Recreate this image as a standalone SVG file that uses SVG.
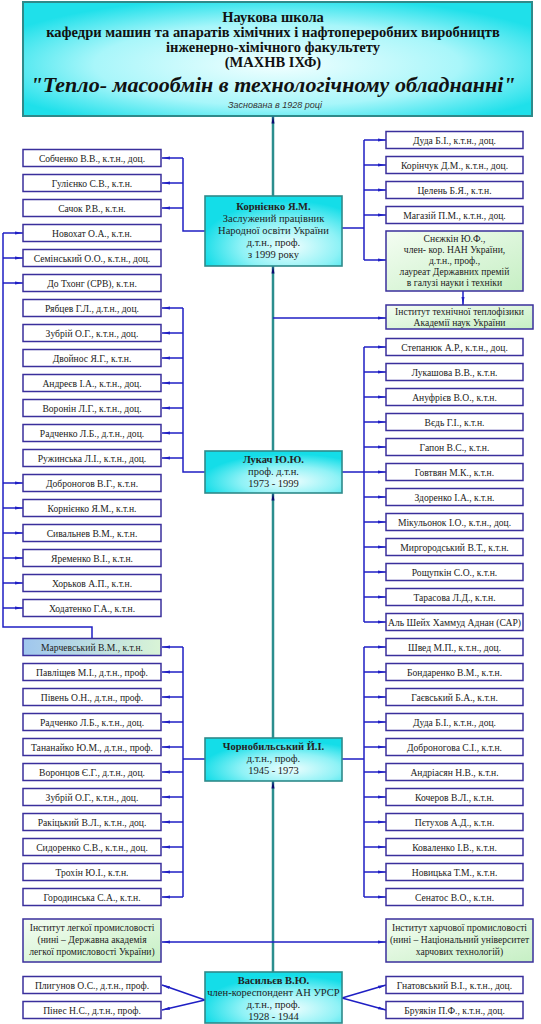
<svg xmlns="http://www.w3.org/2000/svg" width="541" height="1024" viewBox="0 0 541 1024">
<style>
.p rect{fill:#fff;stroke:#3a2f9c;stroke-width:1.5}
.p text,.m text,.i text{font-family:"Liberation Serif","DejaVu Serif",serif;font-size:9.6px;fill:#222;text-anchor:middle}
.m rect{fill:url(#gCyan);stroke:#2f8a8a;stroke-width:1.6}
.m text{font-size:10.5px}
.m .b{font-weight:bold}
.i rect{fill:url(#gGreen);stroke:#3a2f9c;stroke-width:1.5}
.c{fill:none;stroke:#1f1fc4;stroke-width:1.5}
.s{fill:none;stroke:#2b8e8e;stroke-width:2.5}
.t{font-family:"Liberation Serif","DejaVu Serif",serif;text-anchor:middle;fill:#111}
</style>
<defs>
<radialGradient id="gTitle" cx="0.5" cy="0.55" r="0.6">
<stop offset="0" stop-color="#f2ffff"/><stop offset="0.6" stop-color="#a8f6fa"/><stop offset="1" stop-color="#1fe0ea"/>
</radialGradient>
<radialGradient id="gCyan" cx="0.62" cy="0.72" r="0.65">
<stop offset="0" stop-color="#effefe"/><stop offset="0.55" stop-color="#8ff2f6"/><stop offset="1" stop-color="#14dde8"/>
</radialGradient>
<linearGradient id="gGreen" x1="0" y1="0" x2="1" y2="1">
<stop offset="0" stop-color="#f4fdf2"/><stop offset="1" stop-color="#c6efc4"/>
</linearGradient>
<linearGradient id="gMarch" x1="0" y1="0" x2="1" y2="0">
<stop offset="0" stop-color="#9fc6ee"/><stop offset="1" stop-color="#d9f4d6"/>
</linearGradient>
<marker id="a" markerWidth="8" markerHeight="5" refX="8" refY="2.5" orient="auto" markerUnits="userSpaceOnUse">
<path d="M0,1 L8,2.5 L0,4 z" fill="#1f1fc4"/>
</marker>
<marker id="A" markerWidth="8" markerHeight="16" refX="15" refY="4" orient="auto" markerUnits="userSpaceOnUse" viewBox="0 0 16 8">
<path d="M0,1 L16,4 L0,7 z" fill="#0a0a70"/>
</marker>
</defs>

<g id="title">
<rect x="23" y="2" width="509" height="114" fill="url(#gTitle)" stroke="#2f8a8a" stroke-width="2"/>
<text class="t" x="273" y="22" font-size="14.5" font-weight="bold">Наукова школа</text>
<text class="t" x="273" y="37" font-size="14.5" font-weight="bold">кафедри машин та апаратів хімічних і нафтопереробних виробництв</text>
<text class="t" x="273" y="52" font-size="14.5" font-weight="bold">інженерно-хімічного факультету</text>
<text class="t" x="273" y="67" font-size="14.5" font-weight="bold">(МАХНВ ІХФ)</text>
<text class="t" x="273" y="92" font-size="22" font-weight="bold" font-style="italic">"Тепло- масообмін в технологічному обладнанні"</text>
<text x="275" y="108" font-family="Liberation Sans, sans-serif" font-size="9" font-style="italic" fill="#333" text-anchor="middle">Заснована в 1928 році</text>
</g>

<g id="connectors">
<!-- spine -->
<path class="s" d="M273,972 V781" marker-end="url(#A)"/>
<path class="s" d="M273,738 V493" marker-end="url(#A)"/>
<path class="s" d="M273,451 V266" marker-end="url(#A)"/>
<path class="s" d="M273,196 V116" marker-end="url(#A)"/>
<!-- Kornienko left -->
<path class="c" d="M205,231 H183 V158"/>
<path class="c" d="M183,158 H162" marker-end="url(#a)"/>
<path class="c" d="M183,183 H162" marker-end="url(#a)"/>
<path class="c" d="M183,208 H162" marker-end="url(#a)"/>
<!-- Kornienko right -->
<path class="c" d="M342,228 H364 M364,140 V260"/>
<path class="c" d="M364,140 H386" marker-end="url(#a)"/>
<path class="c" d="M364,165 H386" marker-end="url(#a)"/>
<path class="c" d="M364,190 H386" marker-end="url(#a)"/>
<path class="c" d="M364,215 H386" marker-end="url(#a)"/>
<path class="c" d="M364,260 H386" marker-end="url(#a)"/>
<path class="c" d="M463,291 V305" marker-end="url(#a)"/>
<path class="c" d="M273,318 H386" marker-end="url(#a)"/>
<!-- Marchevsky line -->
<path class="c" d="M3,233 V627 H92 V638"/>
<path class="c" d="M3,233 H23" marker-end="url(#a)"/>
<path class="c" d="M3,258 H23" marker-end="url(#a)"/>
<path class="c" d="M3,283 H23" marker-end="url(#a)"/>
<path class="c" d="M3,483 H23" marker-end="url(#a)"/>
<path class="c" d="M3,508 H23" marker-end="url(#a)"/>
<path class="c" d="M3,533 H23" marker-end="url(#a)"/>
<path class="c" d="M3,558 H23" marker-end="url(#a)"/>
<path class="c" d="M3,583 H23" marker-end="url(#a)"/>
<path class="c" d="M3,608 H23" marker-end="url(#a)"/>
<!-- Lukach left -->
<path class="c" d="M205,472 H183 V308"/>
<path class="c" d="M183,308 H162" marker-end="url(#a)"/>
<path class="c" d="M183,333 H162" marker-end="url(#a)"/>
<path class="c" d="M183,358 H162" marker-end="url(#a)"/>
<path class="c" d="M183,383 H162" marker-end="url(#a)"/>
<path class="c" d="M183,408 H162" marker-end="url(#a)"/>
<path class="c" d="M183,433 H162" marker-end="url(#a)"/>
<path class="c" d="M183,458 H162" marker-end="url(#a)"/>
<!-- Lukach right -->
<path class="c" d="M342,472 H364 M364,347 V622"/>
<path class="c" d="M364,347 H386" marker-end="url(#a)"/>
<path class="c" d="M364,372 H386" marker-end="url(#a)"/>
<path class="c" d="M364,397 H386" marker-end="url(#a)"/>
<path class="c" d="M364,422 H386" marker-end="url(#a)"/>
<path class="c" d="M364,447 H386" marker-end="url(#a)"/>
<path class="c" d="M364,472 H386" marker-end="url(#a)"/>
<path class="c" d="M364,497 H386" marker-end="url(#a)"/>
<path class="c" d="M364,522 H386" marker-end="url(#a)"/>
<path class="c" d="M364,547 H386" marker-end="url(#a)"/>
<path class="c" d="M364,572 H386" marker-end="url(#a)"/>
<path class="c" d="M364,597 H386" marker-end="url(#a)"/>
<path class="c" d="M364,622 H386" marker-end="url(#a)"/>
<!-- Chornobylsky left -->
<path class="c" d="M205,759 H183 M183,647 V897"/>
<path class="c" d="M183,647 H162" marker-end="url(#a)"/>
<path class="c" d="M183,672 H162" marker-end="url(#a)"/>
<path class="c" d="M183,697 H162" marker-end="url(#a)"/>
<path class="c" d="M183,722 H162" marker-end="url(#a)"/>
<path class="c" d="M183,747 H162" marker-end="url(#a)"/>
<path class="c" d="M183,772 H162" marker-end="url(#a)"/>
<path class="c" d="M183,797 H162" marker-end="url(#a)"/>
<path class="c" d="M183,822 H162" marker-end="url(#a)"/>
<path class="c" d="M183,847 H162" marker-end="url(#a)"/>
<path class="c" d="M183,872 H162" marker-end="url(#a)"/>
<path class="c" d="M183,897 H162" marker-end="url(#a)"/>
<!-- Chornobylsky right -->
<path class="c" d="M342,759 H364 M364,647 V897"/>
<path class="c" d="M364,647 H386" marker-end="url(#a)"/>
<path class="c" d="M364,672 H386" marker-end="url(#a)"/>
<path class="c" d="M364,697 H386" marker-end="url(#a)"/>
<path class="c" d="M364,722 H386" marker-end="url(#a)"/>
<path class="c" d="M364,747 H386" marker-end="url(#a)"/>
<path class="c" d="M364,772 H386" marker-end="url(#a)"/>
<path class="c" d="M364,797 H386" marker-end="url(#a)"/>
<path class="c" d="M364,822 H386" marker-end="url(#a)"/>
<path class="c" d="M364,847 H386" marker-end="url(#a)"/>
<path class="c" d="M364,872 H386" marker-end="url(#a)"/>
<path class="c" d="M364,897 H386" marker-end="url(#a)"/>
<!-- institutes -->
<path class="c" d="M273,942 H162" marker-end="url(#a)"/>
<path class="c" d="M273,942 H386" marker-end="url(#a)"/>
<!-- Vasylyev -->
<path class="c" d="M205,1000 L162,985" marker-end="url(#a)"/>
<path class="c" d="M205,1000 L162,1010" marker-end="url(#a)"/>
<path class="c" d="M342,998 L386,985" marker-end="url(#a)"/>
<path class="c" d="M342,998 L386,1010" marker-end="url(#a)"/>
</g>

<g id="n-kornienko" class="m"><rect x="205" y="196" width="137" height="70"/>
<text class="b" x="273.5" y="210">Корнієнко Я.М.</text>
<text x="273.5" y="222">Заслужений працівник</text>
<text x="273.5" y="234">Народної освіти України</text>
<text x="273.5" y="246">д.т.н., проф.</text>
<text x="273.5" y="258">з 1999 року</text></g>

<g id="n-lukach" class="m"><rect x="205" y="451" width="137" height="42"/>
<text class="b" x="273.5" y="463">Лукач Ю.Ю.</text>
<text x="273.5" y="475">проф. д.т.н.</text>
<text x="273.5" y="487">1973 - 1999</text></g>

<g id="n-chornobylsky" class="m"><rect x="205" y="738" width="137" height="43"/>
<text class="b" x="273.5" y="750">Чорнобильський Й.І.</text>
<text x="273.5" y="762">д.т.н., проф.</text>
<text x="273.5" y="774">1945 - 1973</text></g>

<g id="n-vasylyev" class="m"><rect x="205" y="972" width="137" height="51"/>
<text class="b" x="273.5" y="984">Васильєв В.Ю.</text>
<text x="273.5" y="996">член-кореспондент АН УРСР</text>
<text x="273.5" y="1008">д.т.н., проф.</text>
<text x="273.5" y="1020">1928 - 1944</text></g>

<g id="n-snezhkin" class="i"><rect x="386" y="231" width="137" height="60"/>
<text x="454.5" y="242">Снєжкін Ю.Ф.,</text>
<text x="454.5" y="253">член- кор. НАН України,</text>
<text x="454.5" y="264">д.т.н., проф.,</text>
<text x="454.5" y="275">лауреат Державних премій</text>
<text x="454.5" y="286">в галузі науки і техніки</text></g>

<g id="n-itt" class="i"><rect x="386" y="305" width="147" height="24"/>
<text x="459.5" y="315">Інститут технічної теплофізики</text>
<text x="459.5" y="326">Академії наук України</text></g>

<g id="n-ilp" class="i"><rect x="23" y="919" width="138" height="43"/>
<text x="92" y="931">Інститут легкої промисловості</text>
<text x="92" y="943">(нині – Державна академія</text>
<text x="92" y="955">легкої промисловості України)</text></g>

<g id="n-ihp" class="i"><rect x="386" y="919" width="147" height="43"/>
<text x="459.5" y="931">Інститут харчової промисловості</text>
<text x="459.5" y="943">(нині – Національний університет</text>
<text x="459.5" y="955">харчових технологій)</text></g>

<g id="n-l1" class="p"><rect x="23" y="149.5" width="138" height="17"/><text x="92" y="161.5">Собченко В.В., к.т.н., доц.</text></g>
<g id="n-l2" class="p"><rect x="23" y="174.5" width="138" height="17"/><text x="92" y="186.5">Гулієнко С.В., к.т.н.</text></g>
<g id="n-l3" class="p"><rect x="23" y="199.5" width="138" height="17"/><text x="92" y="211.5">Сачок Р.В., к.т.н.</text></g>
<g id="n-l4" class="p"><rect x="23" y="224.5" width="138" height="17"/><text x="92" y="236.5">Новохат О.А., к.т.н.</text></g>
<g id="n-l5" class="p"><rect x="23" y="249.5" width="138" height="17"/><text x="92" y="261.5">Семінський О.О., к.т.н., доц.</text></g>
<g id="n-l6" class="p"><rect x="23" y="274.5" width="138" height="17"/><text x="92" y="286.5">До Тхонг (СРВ), к.т.н.</text></g>
<g id="n-l7" class="p"><rect x="23" y="299.5" width="138" height="17"/><text x="92" y="311.5">Рябцев Г.Л., д.т.н., доц.</text></g>
<g id="n-l8" class="p"><rect x="23" y="324.5" width="138" height="17"/><text x="92" y="336.5">Зубрій О.Г., к.т.н., доц.</text></g>
<g id="n-l9" class="p"><rect x="23" y="349.5" width="138" height="17"/><text x="92" y="361.5">Двойнос Я.Г., к.т.н.</text></g>
<g id="n-l10" class="p"><rect x="23" y="374.5" width="138" height="17"/><text x="92" y="386.5">Андреєв І.А., к.т.н., доц.</text></g>
<g id="n-l11" class="p"><rect x="23" y="399.5" width="138" height="17"/><text x="92" y="411.5">Воронін Л.Г., к.т.н., доц.</text></g>
<g id="n-l12" class="p"><rect x="23" y="424.5" width="138" height="17"/><text x="92" y="436.5">Радченко Л.Б., д.т.н., доц.</text></g>
<g id="n-l13" class="p"><rect x="23" y="449.5" width="138" height="17"/><text x="92" y="461.5">Ружинська Л.І., к.т.н., доц.</text></g>
<g id="n-l14" class="p"><rect x="23" y="474.5" width="138" height="17"/><text x="92" y="486.5">Доброногов В.Г., к.т.н.</text></g>
<g id="n-l15" class="p"><rect x="23" y="499.5" width="138" height="17"/><text x="92" y="511.5">Корнієнко Я.М., к.т.н.</text></g>
<g id="n-l16" class="p"><rect x="23" y="524.5" width="138" height="17"/><text x="92" y="536.5">Сивальнев В.М., к.т.н.</text></g>
<g id="n-l17" class="p"><rect x="23" y="549.5" width="138" height="17"/><text x="92" y="561.5">Яременко В.І., к.т.н.</text></g>
<g id="n-l18" class="p"><rect x="23" y="574.5" width="138" height="17"/><text x="92" y="586.5">Хорьков А.П., к.т.н.</text></g>
<g id="n-l19" class="p"><rect x="23" y="599.5" width="138" height="17"/><text x="92" y="611.5">Ходатенко Г.А., к.т.н.</text></g>
<g id="n-l20" class="p"><rect x="23" y="638.5" width="138" height="17" style="fill:url(#gMarch)"/><text x="92" y="650.5">Марчевський В.М., к.т.н.</text></g>
<g id="n-l21" class="p"><rect x="23" y="663.5" width="138" height="17"/><text x="92" y="675.5">Павліщев М.І., д.т.н., проф.</text></g>
<g id="n-l22" class="p"><rect x="23" y="688.5" width="138" height="17"/><text x="92" y="700.5">Півень О.Н., д.т.н., проф.</text></g>
<g id="n-l23" class="p"><rect x="23" y="713.5" width="138" height="17"/><text x="92" y="725.5">Радченко Л.Б., к.т.н., доц.</text></g>
<g id="n-l24" class="p"><rect x="23" y="738.5" width="138" height="17"/><text x="92" y="750.5">Тананайко Ю.М., д.т.н., проф.</text></g>
<g id="n-l25" class="p"><rect x="23" y="763.5" width="138" height="17"/><text x="92" y="775.5">Воронцов Є.Г., д.т.н., доц.</text></g>
<g id="n-l26" class="p"><rect x="23" y="788.5" width="138" height="17"/><text x="92" y="800.5">Зубрій О.Г., к.т.н., доц.</text></g>
<g id="n-l27" class="p"><rect x="23" y="813.5" width="138" height="17"/><text x="92" y="825.5">Ракіцький В.Л., к.т.н., доц.</text></g>
<g id="n-l28" class="p"><rect x="23" y="838.5" width="138" height="17"/><text x="92" y="850.5">Сидоренко С.В., к.т.н., доц.</text></g>
<g id="n-l29" class="p"><rect x="23" y="863.5" width="138" height="17"/><text x="92" y="875.5">Трохін Ю.І., к.т.н.</text></g>
<g id="n-l30" class="p"><rect x="23" y="888.5" width="138" height="17"/><text x="92" y="900.5">Городинська С.А., к.т.н.</text></g>
<g id="n-l31" class="p"><rect x="23" y="976.5" width="138" height="17"/><text x="92" y="988.5">Плигунов О.С., д.т.н., проф.</text></g>
<g id="n-l32" class="p"><rect x="23" y="1001.5" width="138" height="17"/><text x="92" y="1013.5">Пінес Н.С., д.т.н., проф.</text></g>

<g id="n-r1" class="p"><rect x="386" y="131.5" width="137" height="17"/><text x="454.5" y="143.5">Дуда Б.І., к.т.н., доц.</text></g>
<g id="n-r2" class="p"><rect x="386" y="156.5" width="137" height="17"/><text x="454.5" y="168.5">Корінчук Д.М., к.т.н., доц.</text></g>
<g id="n-r3" class="p"><rect x="386" y="181.5" width="137" height="17"/><text x="454.5" y="193.5">Целень Б.Я., к.т.н.</text></g>
<g id="n-r4" class="p"><rect x="386" y="206.5" width="137" height="17"/><text x="454.5" y="218.5">Магазій П.М., к.т.н., доц.</text></g>
<g id="n-r5" class="p"><rect x="386" y="338.5" width="137" height="17"/><text x="454.5" y="350.5">Степанюк А.Р., к.т.н., доц.</text></g>
<g id="n-r6" class="p"><rect x="386" y="363.5" width="137" height="17"/><text x="454.5" y="375.5">Лукашова В.В., к.т.н.</text></g>
<g id="n-r7" class="p"><rect x="386" y="388.5" width="137" height="17"/><text x="454.5" y="400.5">Ануфрієв В.О., к.т.н.</text></g>
<g id="n-r8" class="p"><rect x="386" y="413.5" width="137" height="17"/><text x="454.5" y="425.5">Вєдь Г.І., к.т.н.</text></g>
<g id="n-r9" class="p"><rect x="386" y="438.5" width="137" height="17"/><text x="454.5" y="450.5">Гапон В.С., к.т.н.</text></g>
<g id="n-r10" class="p"><rect x="386" y="463.5" width="137" height="17"/><text x="454.5" y="475.5">Говтвян М.К., к.т.н.</text></g>
<g id="n-r11" class="p"><rect x="386" y="488.5" width="137" height="17"/><text x="454.5" y="500.5">Здоренко І.А., к.т.н.</text></g>
<g id="n-r12" class="p"><rect x="386" y="513.5" width="137" height="17"/><text x="454.5" y="525.5">Мікульонок І.О., к.т.н., доц.</text></g>
<g id="n-r13" class="p"><rect x="386" y="538.5" width="137" height="17"/><text x="454.5" y="550.5">Миргородський В.Т., к.т.н.</text></g>
<g id="n-r14" class="p"><rect x="386" y="563.5" width="137" height="17"/><text x="454.5" y="575.5">Рощупкін С.О., к.т.н.</text></g>
<g id="n-r15" class="p"><rect x="386" y="588.5" width="137" height="17"/><text x="454.5" y="600.5">Тарасова Л.Д., к.т.н.</text></g>
<g id="n-r16" class="p"><rect x="386" y="613.5" width="137" height="17"/><text x="454.5" y="625.5">Аль Шейх Хаммуд Аднан (САР)</text></g>
<g id="n-r17" class="p"><rect x="386" y="638.5" width="137" height="17"/><text x="454.5" y="650.5">Швед М.П., к.т.н., доц.</text></g>
<g id="n-r18" class="p"><rect x="386" y="663.5" width="137" height="17"/><text x="454.5" y="675.5">Бондаренко В.М., к.т.н.</text></g>
<g id="n-r19" class="p"><rect x="386" y="688.5" width="137" height="17"/><text x="454.5" y="700.5">Гаєвський Б.А., к.т.н.</text></g>
<g id="n-r20" class="p"><rect x="386" y="713.5" width="137" height="17"/><text x="454.5" y="725.5">Дуда Б.І., к.т.н., доц.</text></g>
<g id="n-r21" class="p"><rect x="386" y="738.5" width="137" height="17"/><text x="454.5" y="750.5">Доброногова С.І., к.т.н.</text></g>
<g id="n-r22" class="p"><rect x="386" y="763.5" width="137" height="17"/><text x="454.5" y="775.5">Андріасян Н.В., к.т.н.</text></g>
<g id="n-r23" class="p"><rect x="386" y="788.5" width="137" height="17"/><text x="454.5" y="800.5">Кочеров В.Л., к.т.н.</text></g>
<g id="n-r24" class="p"><rect x="386" y="813.5" width="137" height="17"/><text x="454.5" y="825.5">Пєтухов А.Д., к.т.н.</text></g>
<g id="n-r25" class="p"><rect x="386" y="838.5" width="137" height="17"/><text x="454.5" y="850.5">Коваленко І.В., к.т.н.</text></g>
<g id="n-r26" class="p"><rect x="386" y="863.5" width="137" height="17"/><text x="454.5" y="875.5">Новицька Т.М., к.т.н.</text></g>
<g id="n-r27" class="p"><rect x="386" y="888.5" width="137" height="17"/><text x="454.5" y="900.5">Сенатос В.О., к.т.н.</text></g>
<g id="n-r28" class="p"><rect x="386" y="976.5" width="137" height="17"/><text x="454.5" y="988.5">Гнатовський В.І., к.т.н., доц.</text></g>
<g id="n-r29" class="p"><rect x="386" y="1001.5" width="137" height="17"/><text x="454.5" y="1013.5">Бруякін П.Ф., к.т.н., доц.</text></g>
</svg>
